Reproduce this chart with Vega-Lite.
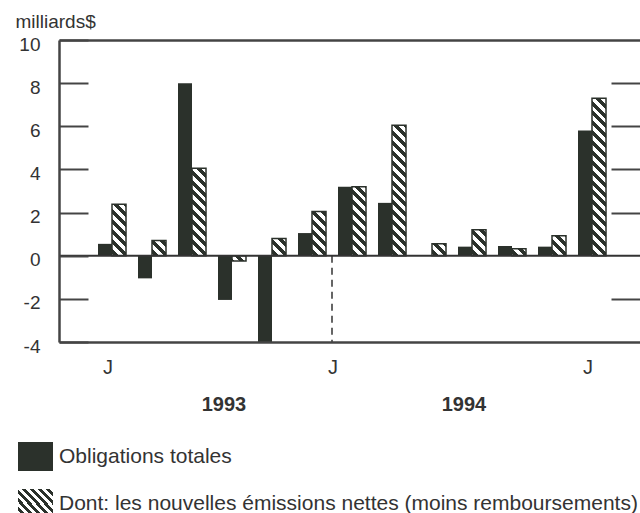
{
  "$schema": "https://vega.github.io/schema/vega-lite/v6.json",
  "width": 581,
  "height": 302,
  "autosize": {"type": "none"},
  "padding": {"left": 59, "top": 40, "right": 0, "bottom": 171},
  "config": {"view": {"stroke": null}, "font": "Liberation Sans", "axis": {"grid": false}},
  "datasets": {
    "bonds": [
      {"m": "1993-07", "s": "Obligations totales", "v": 0.55},
      {"m": "1993-07", "s": "Dont: les nouvelles émissions nettes (moins remboursements)", "v": 2.38},
      {"m": "1993-08", "s": "Obligations totales", "v": -1.05},
      {"m": "1993-08", "s": "Dont: les nouvelles émissions nettes (moins remboursements)", "v": 0.7},
      {"m": "1993-09", "s": "Obligations totales", "v": 8.0},
      {"m": "1993-09", "s": "Dont: les nouvelles émissions nettes (moins remboursements)", "v": 4.05},
      {"m": "1993-10", "s": "Obligations totales", "v": -2.05},
      {"m": "1993-10", "s": "Dont: les nouvelles émissions nettes (moins remboursements)", "v": -0.25},
      {"m": "1993-11", "s": "Obligations totales", "v": -4.0},
      {"m": "1993-11", "s": "Dont: les nouvelles émissions nettes (moins remboursements)", "v": 0.8},
      {"m": "1993-12", "s": "Obligations totales", "v": 1.05},
      {"m": "1993-12", "s": "Dont: les nouvelles émissions nettes (moins remboursements)", "v": 2.05},
      {"m": "1994-01", "s": "Obligations totales", "v": 3.2},
      {"m": "1994-01", "s": "Dont: les nouvelles émissions nettes (moins remboursements)", "v": 3.2},
      {"m": "1994-02", "s": "Obligations totales", "v": 2.45},
      {"m": "1994-02", "s": "Dont: les nouvelles émissions nettes (moins remboursements)", "v": 6.05},
      {"m": "1994-03", "s": "Obligations totales", "v": 0},
      {"m": "1994-03", "s": "Dont: les nouvelles émissions nettes (moins remboursements)", "v": 0.55},
      {"m": "1994-04", "s": "Obligations totales", "v": 0.42},
      {"m": "1994-04", "s": "Dont: les nouvelles émissions nettes (moins remboursements)", "v": 1.2},
      {"m": "1994-05", "s": "Obligations totales", "v": 0.45},
      {"m": "1994-05", "s": "Dont: les nouvelles émissions nettes (moins remboursements)", "v": 0.32},
      {"m": "1994-06", "s": "Obligations totales", "v": 0.42},
      {"m": "1994-06", "s": "Dont: les nouvelles émissions nettes (moins remboursements)", "v": 0.92},
      {"m": "1994-07", "s": "Obligations totales", "v": 5.8},
      {"m": "1994-07", "s": "Dont: les nouvelles émissions nettes (moins remboursements)", "v": 7.3}
    ],
    "years": [
      {"m": "1993-10", "label": "1993"},
      {"m": "1994-04", "label": "1994"}
    ]
  },
  "data": {"name": "bonds"},
  "resolve": {"axis": {"x": "independent", "y": "independent"}},
  "layer": [
    {
      "transform": [{"filter": "datum.s !== 'Obligations totales'"}],
      "mark": {
        "type": "bar", "width": 14, "xOffset": 7,
        "strokeWidth": 0,
        "fill": {
          "gradient": "linear", "x1": 0, "y1": 1, "x2": 0.0484, "y2": -0.0441,
          "stops": [
            {"offset": 0, "color": "#2b312b"},
            {"offset": 0.015625, "color": "#2b312b"}, {"offset": 0.015625, "color": "#fff"},
            {"offset": 0.03125, "color": "#fff"}, {"offset": 0.03125, "color": "#2b312b"},
            {"offset": 0.046875, "color": "#2b312b"}, {"offset": 0.046875, "color": "#fff"},
            {"offset": 0.0625, "color": "#fff"}, {"offset": 0.0625, "color": "#2b312b"},
            {"offset": 0.078125, "color": "#2b312b"}, {"offset": 0.078125, "color": "#fff"},
            {"offset": 0.09375, "color": "#fff"}, {"offset": 0.09375, "color": "#2b312b"},
            {"offset": 0.109375, "color": "#2b312b"}, {"offset": 0.109375, "color": "#fff"},
            {"offset": 0.125, "color": "#fff"}, {"offset": 0.125, "color": "#2b312b"},
            {"offset": 0.140625, "color": "#2b312b"}, {"offset": 0.140625, "color": "#fff"},
            {"offset": 0.15625, "color": "#fff"}, {"offset": 0.15625, "color": "#2b312b"},
            {"offset": 0.171875, "color": "#2b312b"}, {"offset": 0.171875, "color": "#fff"},
            {"offset": 0.1875, "color": "#fff"}, {"offset": 0.1875, "color": "#2b312b"},
            {"offset": 0.203125, "color": "#2b312b"}, {"offset": 0.203125, "color": "#fff"},
            {"offset": 0.21875, "color": "#fff"}, {"offset": 0.21875, "color": "#2b312b"},
            {"offset": 0.234375, "color": "#2b312b"}, {"offset": 0.234375, "color": "#fff"},
            {"offset": 0.25, "color": "#fff"}, {"offset": 0.25, "color": "#2b312b"},
            {"offset": 0.265625, "color": "#2b312b"}, {"offset": 0.265625, "color": "#fff"},
            {"offset": 0.28125, "color": "#fff"}, {"offset": 0.28125, "color": "#2b312b"},
            {"offset": 0.296875, "color": "#2b312b"}, {"offset": 0.296875, "color": "#fff"},
            {"offset": 0.3125, "color": "#fff"}, {"offset": 0.3125, "color": "#2b312b"},
            {"offset": 0.328125, "color": "#2b312b"}, {"offset": 0.328125, "color": "#fff"},
            {"offset": 0.34375, "color": "#fff"}, {"offset": 0.34375, "color": "#2b312b"},
            {"offset": 0.359375, "color": "#2b312b"}, {"offset": 0.359375, "color": "#fff"},
            {"offset": 0.375, "color": "#fff"}, {"offset": 0.375, "color": "#2b312b"},
            {"offset": 0.390625, "color": "#2b312b"}, {"offset": 0.390625, "color": "#fff"},
            {"offset": 0.40625, "color": "#fff"}, {"offset": 0.40625, "color": "#2b312b"},
            {"offset": 0.421875, "color": "#2b312b"}, {"offset": 0.421875, "color": "#fff"},
            {"offset": 0.4375, "color": "#fff"}, {"offset": 0.4375, "color": "#2b312b"},
            {"offset": 0.453125, "color": "#2b312b"}, {"offset": 0.453125, "color": "#fff"},
            {"offset": 0.46875, "color": "#fff"}, {"offset": 0.46875, "color": "#2b312b"},
            {"offset": 0.484375, "color": "#2b312b"}, {"offset": 0.484375, "color": "#fff"},
            {"offset": 0.5, "color": "#fff"}, {"offset": 0.5, "color": "#2b312b"},
            {"offset": 0.515625, "color": "#2b312b"}, {"offset": 0.515625, "color": "#fff"},
            {"offset": 0.53125, "color": "#fff"}, {"offset": 0.53125, "color": "#2b312b"},
            {"offset": 0.546875, "color": "#2b312b"}, {"offset": 0.546875, "color": "#fff"},
            {"offset": 0.5625, "color": "#fff"}, {"offset": 0.5625, "color": "#2b312b"},
            {"offset": 0.578125, "color": "#2b312b"}, {"offset": 0.578125, "color": "#fff"},
            {"offset": 0.59375, "color": "#fff"}, {"offset": 0.59375, "color": "#2b312b"},
            {"offset": 0.609375, "color": "#2b312b"}, {"offset": 0.609375, "color": "#fff"},
            {"offset": 0.625, "color": "#fff"}, {"offset": 0.625, "color": "#2b312b"},
            {"offset": 0.640625, "color": "#2b312b"}, {"offset": 0.640625, "color": "#fff"},
            {"offset": 0.65625, "color": "#fff"}, {"offset": 0.65625, "color": "#2b312b"},
            {"offset": 0.671875, "color": "#2b312b"}, {"offset": 0.671875, "color": "#fff"},
            {"offset": 0.6875, "color": "#fff"}, {"offset": 0.6875, "color": "#2b312b"},
            {"offset": 0.703125, "color": "#2b312b"}, {"offset": 0.703125, "color": "#fff"},
            {"offset": 0.71875, "color": "#fff"}, {"offset": 0.71875, "color": "#2b312b"},
            {"offset": 0.734375, "color": "#2b312b"}, {"offset": 0.734375, "color": "#fff"},
            {"offset": 0.75, "color": "#fff"}, {"offset": 0.75, "color": "#2b312b"},
            {"offset": 0.765625, "color": "#2b312b"}, {"offset": 0.765625, "color": "#fff"},
            {"offset": 0.78125, "color": "#fff"}, {"offset": 0.78125, "color": "#2b312b"},
            {"offset": 0.796875, "color": "#2b312b"}, {"offset": 0.796875, "color": "#fff"},
            {"offset": 0.8125, "color": "#fff"}, {"offset": 0.8125, "color": "#2b312b"},
            {"offset": 0.828125, "color": "#2b312b"}, {"offset": 0.828125, "color": "#fff"},
            {"offset": 0.84375, "color": "#fff"}, {"offset": 0.84375, "color": "#2b312b"},
            {"offset": 0.859375, "color": "#2b312b"}, {"offset": 0.859375, "color": "#fff"},
            {"offset": 0.875, "color": "#fff"}, {"offset": 0.875, "color": "#2b312b"},
            {"offset": 0.890625, "color": "#2b312b"}, {"offset": 0.890625, "color": "#fff"},
            {"offset": 0.90625, "color": "#fff"}, {"offset": 0.90625, "color": "#2b312b"},
            {"offset": 0.921875, "color": "#2b312b"}, {"offset": 0.921875, "color": "#fff"},
            {"offset": 0.9375, "color": "#fff"}, {"offset": 0.9375, "color": "#2b312b"},
            {"offset": 0.953125, "color": "#2b312b"}, {"offset": 0.953125, "color": "#fff"},
            {"offset": 0.96875, "color": "#fff"}, {"offset": 0.96875, "color": "#2b312b"},
            {"offset": 0.984375, "color": "#2b312b"}, {"offset": 0.984375, "color": "#fff"},
            {"offset": 1, "color": "#fff"}
          ]
        }
      },
      "encoding": {
        "x": {
          "field": "m", "type": "ordinal", "axis": null,
          "scale": {
            "type": "band",
            "domain": ["1993-07", "1993-08", "1993-09", "1993-10", "1993-11", "1993-12", "1994-01", "1994-02", "1994-03", "1994-04", "1994-05", "1994-06", "1994-07"],
            "paddingInner": 0.3, "paddingOuter": 0.91, "align": 0.5342, "round": true
          }
        },
        "y": {"datum": 10, "type": "quantitative", "axis": null, "scale": {"domain": [-4, 10], "nice": false, "zero": false}},
        "y2": {"datum": -4}
      }
    },
    {
      "transform": [{"filter": "datum.s !== 'Obligations totales' && datum.v >= 0"}],
      "mark": {"type": "bar", "width": 14, "xOffset": 7, "fill": "#ffffff", "strokeWidth": 0},
      "encoding": {
        "x": {"field": "m", "type": "ordinal", "axis": null},
        "y": {"field": "v", "type": "quantitative", "axis": null},
        "y2": {"datum": 10}
      }
    },
    {
      "transform": [{"filter": "datum.s !== 'Obligations totales' && datum.v >= 0"}],
      "mark": {"type": "bar", "width": 14, "xOffset": 7, "fill": "#ffffff", "strokeWidth": 0},
      "encoding": {
        "x": {"field": "m", "type": "ordinal", "axis": null},
        "y": {"datum": 0, "type": "quantitative", "axis": null},
        "y2": {"datum": -4}
      }
    },
    {
      "transform": [{"filter": "datum.s !== 'Obligations totales' && datum.v < 0"}],
      "mark": {"type": "bar", "width": 14, "xOffset": 7, "fill": "#ffffff", "strokeWidth": 0},
      "encoding": {
        "x": {"field": "m", "type": "ordinal", "axis": null},
        "y": {"datum": 10, "type": "quantitative", "axis": null},
        "y2": {"datum": 0}
      }
    },
    {
      "transform": [{"filter": "datum.s !== 'Obligations totales' && datum.v < 0"}],
      "mark": {"type": "bar", "width": 14, "xOffset": 7, "fill": "#ffffff", "strokeWidth": 0},
      "encoding": {
        "x": {"field": "m", "type": "ordinal", "axis": null},
        "y": {"field": "v", "type": "quantitative", "axis": null},
        "y2": {"datum": -4}
      }
    },
    {
      "transform": [{"filter": "datum.s === 'Obligations totales'"}],
      "mark": {"type": "bar", "width": 14, "xOffset": -7, "strokeWidth": 0},
      "encoding": {
        "x": {
          "field": "m", "type": "ordinal",
          "axis": {
            "orient": "bottom", "title": null, "ticks": false, "labels": false, "domain": true,
            "domainColor": "#444", "domainWidth": 2.5, "zindex": 2
          }
        },
        "y": {
          "field": "v", "type": "quantitative",
          "axis": {
            "orient": "left", "values": [-4, -2, 0, 2, 4, 6, 8, 10], "zindex": 2,
            "title": "milliards$", "titleAngle": 0, "titleX": -44, "titleY": -13,
            "titleAlign": "left", "titleBaseline": "alphabetic", "titleFontWeight": "normal",
            "titleFontSize": 19, "titleColor": "#333", "titleFont": "Liberation Sans",
            "domainColor": "#444", "domainWidth": 2.5,
            "tickSize": -29, "tickColor": "#444", "tickWidth": 2,
            "labelPadding": 48, "labelFontSize": 19, "labelColor": "#333", "labelFont": "Liberation Sans",
            "labelExpr": "'' + datum.value", "labelFlush": false, "labelOverlap": false, "labelOffset": 4
          }
        },
        "fill": {
          "field": "s", "type": "nominal",
          "scale": {"domain": ["Obligations totales"], "range": ["#2b312b"]},
          "legend": {
            "orient": "none", "legendX": -41, "legendY": 399, "direction": "vertical", "title": null,
            "symbolType": "M-1,-0.83H1V0.83H-1Z", "symbolSize": 1225, "symbolStrokeWidth": 0,
            "labelFont": "Liberation Sans", "labelFontSize": 21, "labelColor": "#333",
            "labelOffset": 6, "labelLimit": 0, "padding": 0
          }
        }
      }
    },
    {
      "transform": [{"filter": "false"}],
      "mark": {
        "type": "point", "filled": true, "opacity": 1, "strokeWidth": 0,
        "fill": {
          "gradient": "linear", "x1": 0, "y1": 1, "x2": 1.0842, "y2": 0.1016,
          "stops": [
            {"offset": 0, "color": "#2b312b"}, {"offset": 0.0625, "color": "#2b312b"},
            {"offset": 0.0625, "color": "#fff"}, {"offset": 0.125, "color": "#fff"},
            {"offset": 0.125, "color": "#2b312b"}, {"offset": 0.1875, "color": "#2b312b"},
            {"offset": 0.1875, "color": "#fff"}, {"offset": 0.25, "color": "#fff"},
            {"offset": 0.25, "color": "#2b312b"}, {"offset": 0.3125, "color": "#2b312b"},
            {"offset": 0.3125, "color": "#fff"}, {"offset": 0.375, "color": "#fff"},
            {"offset": 0.375, "color": "#2b312b"}, {"offset": 0.4375, "color": "#2b312b"},
            {"offset": 0.4375, "color": "#fff"}, {"offset": 0.5, "color": "#fff"},
            {"offset": 0.5, "color": "#2b312b"}, {"offset": 0.5625, "color": "#2b312b"},
            {"offset": 0.5625, "color": "#fff"}, {"offset": 0.625, "color": "#fff"},
            {"offset": 0.625, "color": "#2b312b"}, {"offset": 0.6875, "color": "#2b312b"},
            {"offset": 0.6875, "color": "#fff"}, {"offset": 0.75, "color": "#fff"},
            {"offset": 0.75, "color": "#2b312b"}, {"offset": 0.8125, "color": "#2b312b"},
            {"offset": 0.8125, "color": "#fff"}, {"offset": 0.875, "color": "#fff"},
            {"offset": 0.875, "color": "#2b312b"}, {"offset": 0.9375, "color": "#2b312b"},
            {"offset": 0.9375, "color": "#fff"}, {"offset": 1, "color": "#fff"}
          ]
        }
      },
      "encoding": {
        "x": {"field": "m", "type": "ordinal", "axis": null},
        "y": {"field": "v", "type": "quantitative", "axis": null},
        "shape": {
          "field": "s", "type": "nominal",
          "scale": {"domain": ["Dont: les nouvelles émissions nettes (moins remboursements)"], "range": ["M-1,-0.83H1V0.83H-1Z"]},
          "legend": {
            "orient": "none", "legendX": -41, "legendY": 446, "direction": "vertical", "title": null,
            "symbolSize": 1225, "symbolStrokeWidth": 0, "symbolOpacity": 1,
            "labelFont": "Liberation Sans", "labelFontSize": 21, "labelColor": "#333",
            "labelOffset": 6, "labelLimit": 0, "padding": 0
          }
        }
      }
    },
    {
      "transform": [{"filter": "datum.s !== 'Obligations totales'"}],
      "mark": {"type": "bar", "width": 14, "xOffset": 7, "fillOpacity": 0, "stroke": "#2b312b", "strokeWidth": 1.5},
      "encoding": {
        "x": {
          "field": "m", "type": "ordinal",
          "axis": {"orient": "top", "title": null, "labels": false, "ticks": false, "domain": true, "domainColor": "#444", "domainWidth": 2.5, "zindex": 2}
        },
        "y": {
          "field": "v", "type": "quantitative",
          "axis": {"orient": "right", "title": null, "labels": false, "domain": false, "values": [-2, 2, 4, 6, 8], "tickSize": -29, "tickColor": "#444", "tickWidth": 2, "zindex": 2}
        }
      }
    },
    {
      "data": {"values": [{}]},
      "mark": {"type": "rule", "color": "#333", "strokeWidth": 2},
      "encoding": {
        "y": {"datum": 0, "type": "quantitative", "axis": null}
      }
    },
    {
      "data": {"values": [{}]},
      "mark": {"type": "rule", "color": "#333", "strokeWidth": 1.5, "strokeDash": [7, 5], "xOffset": -20},
      "encoding": {
        "x": {"datum": "1994-01", "type": "ordinal", "axis": null},
        "y": {"datum": 0, "type": "quantitative", "axis": null},
        "y2": {"datum": -4}
      }
    },
    {
      "data": {"values": [{"m": "1993-07", "label": "J"}, {"m": "1994-07", "label": "J"}]},
      "mark": {"type": "text", "font": "Liberation Sans", "fontSize": 20, "color": "#333", "baseline": "middle", "dx": -4, "dy": 26},
      "encoding": {
        "x": {"field": "m", "type": "ordinal", "axis": null},
        "y": {"datum": -4, "type": "quantitative", "axis": null},
        "text": {"field": "label"}
      }
    },
    {
      "data": {"values": [{"m": "1994-01", "label": "J"}]},
      "mark": {"type": "text", "font": "Liberation Sans", "fontSize": 20, "color": "#333", "baseline": "middle", "dx": -19, "dy": 26},
      "encoding": {
        "x": {"field": "m", "type": "ordinal", "axis": null},
        "y": {"datum": -4, "type": "quantitative", "axis": null},
        "text": {"field": "label"}
      }
    },
    {
      "data": {"name": "years"},
      "mark": {"type": "text", "font": "Liberation Sans", "fontSize": 20, "fontWeight": "bold", "color": "#333", "baseline": "middle", "dx": -8, "dy": 63},
      "encoding": {
        "x": {"field": "m", "type": "ordinal", "axis": null},
        "y": {"datum": -4, "type": "quantitative", "axis": null},
        "text": {"field": "label"}
      }
    }
  ]
}
